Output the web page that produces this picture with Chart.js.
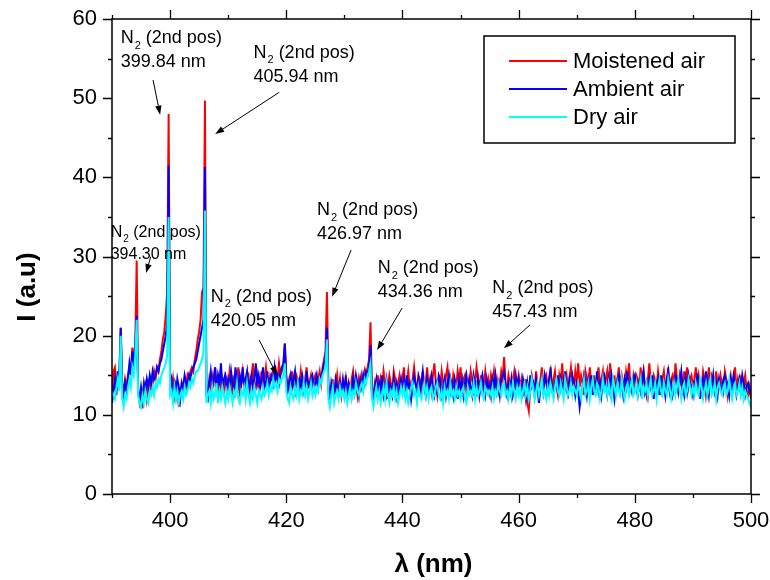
<!DOCTYPE html>
<html>
<head>
<meta charset="utf-8">
<title>N2 emission spectra</title>
<script src="https://cdn.jsdelivr.net/npm/chart.js@4.4.0/dist/chart.umd.min.js"></script>
<style>
  body { margin:0; background:#fff; }
  #wrap { width:770px; height:580px; }
</style>
</head>
<body>
<div id="wrap"><canvas id="spectrum" width="770" height="580"></canvas></div>
<script>
// wavelength grid: 390 nm .. 500 nm, one reading every 0.25 nm
var wlStart = 390, wlStep = 0.25;

// intensities (a.u.), 20 readings per row = 5 nm
var moist = [
  13.0, 15.5, 16.0, 13.5, 14.5, 15.0, 21.0, 14.0, 13.0, 14.5, 13.5, 15.0, 16.0, 15.5, 18.5, 17.0, 19.0, 29.5, 13.0, 11.5,
  12.5, 10.8, 13.5, 14.0, 12.0, 13.5, 14.5, 13.0, 14.0, 15.5, 14.5, 16.0, 15.5, 17.0, 18.0, 19.5, 20.5, 22.5, 25.5, 48.0,
  14.0, 13.0, 14.5, 12.5, 14.0, 13.5, 11.0, 12.5, 14.0, 13.0, 14.5, 13.5, 15.0, 14.5, 15.5, 16.0, 15.5, 17.0, 18.0, 19.5,
  20.5, 22.0, 25.5, 26.0, 49.7, 13.0, 12.5, 14.5, 13.5, 15.0, 14.0, 16.0, 13.5, 14.5, 12.5, 15.5, 14.0, 13.0, 15.0, 14.5,
  13.5, 15.5, 14.0, 12.5, 15.0, 13.5, 14.5, 16.0, 13.0, 14.0, 15.5, 13.5, 12.5, 14.5, 15.0, 13.0, 14.5, 16.5, 14.0, 13.5,
  15.0, 13.5, 14.0, 15.5, 13.0, 14.5, 16.0, 14.0, 13.5, 15.0, 14.5, 16.0, 13.5, 15.5, 14.5, 16.5, 15.0, 15.5, 16.0, 19.0,
  15.0, 13.5, 14.5, 13.0, 15.5, 14.0, 13.0, 15.0, 14.5, 13.5, 15.5, 14.0, 13.0, 14.5, 16.0, 13.5, 14.0, 15.0, 13.5, 14.5,
  15.0, 13.5, 14.5, 15.5, 14.0, 16.0, 17.0, 18.0, 25.5, 14.0, 12.5, 13.0, 14.5, 12.0, 13.5, 15.0, 13.0, 14.5, 12.5, 14.0,
  13.5, 15.0, 12.5, 14.0, 13.0, 14.5, 15.5, 13.5, 14.0, 12.5, 14.5, 13.5, 15.0, 14.0, 15.5, 14.5, 16.0, 17.0, 21.7, 13.0,
  12.5, 14.0, 13.0, 15.0, 12.5, 14.5, 13.5, 15.5, 14.0, 12.5, 13.5, 15.0, 14.0, 13.0, 15.5, 14.5, 12.5, 14.0, 15.0, 13.5,
  14.5, 16.0, 13.0, 14.0, 15.5, 13.5, 12.5, 14.5, 16.0, 14.0, 13.0, 15.0, 14.5, 12.5, 15.5, 13.5, 14.0, 16.0, 13.5, 14.5,
  13.0, 15.0, 16.5, 14.0, 12.5, 14.5, 13.5, 15.5, 14.0, 13.0, 15.0, 16.0, 13.5, 14.5, 12.5, 15.0, 14.0, 13.5, 15.5, 14.0,
  16.0, 13.5, 14.5, 15.0, 13.0, 14.0, 12.5, 15.5, 14.5, 13.0, 14.0, 16.0, 14.5, 13.5, 15.0, 12.5, 14.0, 15.5, 13.5, 14.5,
  13.0, 15.0, 14.0, 15.5, 13.5, 14.5, 13.0, 14.0, 15.5, 14.5, 17.3, 14.0, 13.0, 15.0, 14.0, 12.5, 14.5, 15.5, 13.5, 14.0,
  15.0, 13.5, 14.5, 12.5, 13.0, 14.5, 11.5, 10.5, 13.5, 15.0, 14.0, 13.0, 15.5, 14.0, 12.5, 14.5, 16.0, 13.5, 14.5, 15.0,
  13.5, 14.5, 16.0, 13.0, 14.5, 15.5, 13.5, 12.5, 15.0, 14.0, 16.5, 13.5, 14.0, 15.0, 13.0, 14.5, 16.0, 14.0, 13.5, 15.5,
  14.0, 16.5, 13.5, 15.0, 14.0, 12.5, 15.5, 14.5, 13.0, 16.0, 14.0, 13.5, 15.0, 12.5, 14.5, 16.0, 13.5, 14.5, 15.5, 13.0,
  14.5, 15.5, 13.0, 16.5, 14.0, 13.5, 15.0, 12.5, 14.5, 16.0, 13.5, 15.0, 14.0, 13.0, 15.5, 14.5, 16.5, 13.5, 14.0, 15.0,
  13.5, 15.0, 14.5, 13.0, 16.0, 14.0, 15.5, 13.5, 12.5, 14.5, 16.5, 14.0, 13.0, 15.0, 14.5, 13.5, 15.5, 14.0, 13.0, 14.5,
  15.5, 13.5, 14.0, 16.0, 13.0, 14.5, 15.0, 13.5, 16.5, 14.5, 13.0, 15.0, 14.0, 12.5, 15.5, 14.0, 16.0, 13.5, 14.5, 15.0,
  13.5, 14.5, 16.0, 13.0, 15.0, 14.0, 13.5, 15.5, 14.5, 12.5, 14.0, 16.0, 13.5, 15.0, 14.5, 13.0, 15.5, 14.0, 13.5, 15.0,
  14.0, 13.0, 15.5, 14.5, 12.5, 14.0, 15.0, 13.5, 14.5, 16.0, 13.0, 14.5, 13.5, 15.0, 12.5, 14.0, 15.0, 13.0, 12.5, 13.5,
  12.0
];
var ambient = [
  11.5, 13.0, 14.5, 12.5, 15.5, 14.0, 21.0, 13.5, 12.5, 14.0, 13.0, 14.5, 16.5, 15.0, 18.0, 16.5, 18.5, 22.5, 13.0, 12.0,
  13.5, 12.0, 14.0, 13.0, 14.5, 13.5, 15.0, 14.0, 15.5, 14.5, 15.0, 16.0, 15.5, 16.5, 17.0, 18.0, 19.0, 20.0, 21.5, 41.5,
  13.5, 14.5, 13.0, 14.0, 12.5, 14.5, 13.5, 12.0, 14.0, 13.5, 15.0, 14.0, 13.5, 15.0, 14.5, 15.5, 16.0, 16.5, 17.0, 18.0,
  19.0, 20.0, 21.0, 22.0, 41.3, 12.5, 12.0, 14.0, 15.5, 13.5, 14.5, 16.0, 13.0, 15.0, 14.0, 16.5, 13.5, 14.5, 15.0, 13.0,
  14.5, 13.5, 15.5, 14.0, 13.0, 16.0, 14.5, 13.5, 15.0, 14.0, 16.0, 13.5, 14.5, 15.5, 13.0, 14.0, 15.0, 13.5, 14.5, 16.5,
  14.0, 15.0, 13.5, 14.5, 16.0, 13.5, 14.0, 15.5, 13.0, 14.5, 15.0, 14.0, 16.0, 14.5, 15.0, 14.0, 15.5, 16.0, 16.5, 19.0,
  14.5, 13.0, 14.0, 15.0, 13.5, 14.5, 15.5, 13.0, 14.0, 14.5, 13.5, 15.0, 14.0, 13.0, 15.5, 14.0, 13.5, 14.5, 15.0, 13.5,
  14.0, 15.0, 13.5, 14.5, 15.0, 15.5, 16.5, 17.0, 21.0, 13.0, 12.0, 14.0, 13.0, 12.5, 14.5, 13.5, 12.5, 14.0, 13.0, 14.5,
  13.0, 14.5, 12.5, 14.0, 13.5, 12.5, 14.5, 13.0, 15.0, 14.0, 12.5, 14.5, 13.5, 15.0, 14.0, 15.5, 15.0, 16.0, 18.8, 12.5,
  12.0, 13.5, 14.5, 12.5, 14.0, 13.0, 15.0, 12.5, 13.5, 14.5, 12.0, 14.0, 13.5, 12.5, 14.5, 13.0, 14.0, 12.5, 13.5, 14.5,
  13.0, 14.5, 12.5, 15.0, 13.5, 14.0, 12.0, 13.5, 15.0, 14.0, 12.5, 14.5, 13.0, 14.0, 15.5, 13.5, 12.5, 14.5, 13.0, 14.0,
  15.0, 13.5, 12.5, 14.0, 13.0, 15.0, 14.5, 12.5, 13.5, 14.5, 12.5, 14.0, 15.0, 13.0, 14.0, 12.5, 14.5, 13.5, 12.0, 14.5,
  13.5, 14.5, 12.5, 14.0, 15.0, 13.0, 14.5, 13.5, 12.5, 15.0, 14.0, 13.0, 14.5, 12.5, 14.0, 15.0, 13.5, 12.5, 14.5, 13.5,
  14.0, 12.5, 14.5, 13.5, 15.0, 13.0, 14.0, 12.5, 14.5, 15.0, 15.5, 13.5, 12.5, 14.0, 13.0, 14.5, 12.5, 13.5, 15.0, 13.5,
  14.5, 13.0, 12.5, 14.5, 13.5, 12.0, 14.0, 12.5, 15.0, 13.5, 14.0, 12.5, 14.5, 13.5, 11.5, 13.5, 14.5, 13.0, 15.0, 14.0,
  13.0, 14.5, 15.5, 13.0, 12.5, 14.0, 13.5, 15.0, 12.5, 14.5, 13.5, 14.0, 15.5, 13.0, 12.5, 14.5, 13.5, 15.0, 14.0, 12.5,
  14.0, 13.0, 11.0, 12.5, 13.5, 15.0, 14.0, 12.5, 14.5, 13.5, 15.0, 12.5, 14.0, 13.5, 15.5, 13.0, 14.0, 12.5, 14.5, 15.0,
  13.5, 12.5, 14.5, 13.0, 15.0, 14.0, 12.0, 13.5, 14.5, 15.0, 13.0, 14.0, 12.5, 14.5, 13.5, 15.5, 12.5, 14.0, 13.0, 14.5,
  15.0, 13.5, 12.5, 14.0, 13.0, 14.5, 15.5, 13.0, 14.0, 12.5, 14.5, 13.5, 15.0, 12.0, 14.0, 13.5, 14.5, 12.5, 15.0, 13.5,
  14.0, 12.5, 14.5, 15.5, 13.0, 14.0, 12.5, 13.5, 15.0, 14.5, 13.0, 14.0, 15.5, 13.5, 12.5, 14.5, 13.0, 15.0, 14.0, 13.5,
  12.5, 14.0, 13.5, 15.0, 14.5, 12.0, 13.5, 14.5, 13.0, 15.5, 14.0, 12.5, 14.5, 13.5, 15.0, 13.0, 14.0, 12.5, 14.5, 13.5,
  13.0, 14.5, 15.0, 13.5, 14.0, 12.5, 14.5, 13.5, 15.0, 14.0, 12.5, 13.5, 14.5, 13.0, 15.0, 14.0, 12.5, 13.5, 14.0, 13.0,
  12.5
];
var dry = [
  13.0, 12.5, 12.0, 13.5, 14.5, 13.0, 20.0, 12.0, 11.0, 12.5, 12.0, 13.5, 14.5, 13.5, 16.0, 15.0, 17.5, 22.0, 12.5, 11.5,
  11.0, 12.5, 11.5, 13.0, 12.0, 11.5, 13.0, 12.5, 13.5, 12.5, 14.0, 13.5, 14.5, 14.0, 15.0, 15.5, 16.0, 16.5, 17.5, 35.0,
  12.5, 13.0, 11.5, 13.5, 12.0, 13.0, 11.5, 12.5, 13.0, 12.0, 13.5, 12.5, 13.0, 14.0, 13.5, 14.5, 14.0, 15.0, 15.5, 15.5,
  16.0, 16.5, 17.0, 18.0, 35.8, 11.5, 12.5, 13.0, 11.5, 13.5, 12.0, 12.5, 14.0, 11.5, 13.0, 12.0, 13.5, 12.5, 11.5, 13.0,
  12.0, 13.5, 12.5, 11.5, 13.0, 12.5, 14.0, 12.0, 11.5, 13.0, 12.5, 13.5, 12.0, 14.0, 12.5, 11.5, 13.0, 12.0, 13.5, 12.5,
  11.5, 13.0, 12.5, 12.0, 13.5, 12.5, 13.0, 14.0, 12.5, 13.5, 13.0, 14.5, 13.5, 14.0, 13.0, 14.5, 14.0, 14.5, 15.0, 16.5,
  13.0, 12.0, 11.5, 13.5, 12.5, 12.0, 13.5, 12.5, 14.0, 12.0, 13.0, 12.5, 14.0, 12.5, 13.5, 12.0, 13.0, 14.0, 12.5, 13.5,
  12.5, 13.5, 13.0, 14.5, 14.0, 15.0, 15.5, 16.0, 19.5, 12.0, 11.0, 12.5, 13.5, 11.5, 12.5, 13.0, 12.0, 13.5, 12.5, 13.0,
  12.0, 13.0, 11.5, 12.5, 13.5, 12.0, 13.0, 12.5, 14.0, 13.0, 12.5, 13.5, 14.0, 13.0, 14.5, 14.0, 15.0, 15.5, 16.5, 12.0,
  11.0, 12.5, 13.5, 12.0, 13.0, 11.5, 12.5, 13.5, 12.0, 14.0, 12.5, 11.5, 13.0, 12.5, 13.5, 12.0, 13.0, 11.5, 12.5, 13.5,
  12.5, 13.5, 12.0, 13.0, 11.5, 12.5, 13.5, 14.0, 12.5, 13.0, 11.5, 13.5, 12.5, 12.0, 13.0, 14.0, 12.5, 13.5, 12.0, 13.0,
  13.5, 12.0, 12.5, 13.5, 14.0, 12.5, 12.0, 13.0, 11.5, 13.5, 12.5, 13.0, 12.0, 14.0, 12.5, 13.0, 12.0, 13.5, 12.5, 13.0,
  12.0, 13.0, 13.5, 12.0, 11.5, 13.5, 12.5, 13.0, 12.5, 14.0, 12.0, 13.5, 12.5, 13.0, 14.0, 12.5, 12.0, 13.5, 13.0, 12.5,
  13.0, 12.5, 13.5, 12.0, 13.0, 12.5, 14.0, 13.0, 12.5, 13.5, 14.0, 12.5, 13.0, 12.0, 13.5, 12.5, 14.0, 13.0, 12.0, 13.5,
  12.5, 13.5, 12.0, 13.0, 14.0, 12.5, 13.5, 12.0, 13.0, 14.5, 13.5, 12.0, 13.0, 14.0, 12.5, 13.5, 14.5, 12.5, 13.0, 12.0,
  13.5, 12.5, 14.0, 13.0, 12.0, 13.5, 14.5, 13.0, 12.5, 14.0, 13.0, 12.0, 14.5, 13.5, 12.5, 13.0, 14.0, 12.5, 13.5, 13.0,
  12.5, 14.0, 13.0, 12.0, 13.5, 14.5, 12.5, 13.0, 14.0, 12.0, 13.5, 14.5, 13.0, 12.5, 14.0, 13.5, 12.0, 13.0, 14.5, 13.0,
  13.5, 12.5, 14.0, 13.0, 12.0, 14.5, 13.5, 12.5, 14.0, 13.0, 12.5, 14.5, 13.0, 12.0, 13.5, 14.0, 12.5, 13.5, 14.5, 12.5,
  13.0, 14.0, 12.5, 13.5, 14.5, 12.0, 13.5, 13.0, 14.0, 12.5, 13.5, 14.5, 12.5, 13.0, 14.0, 12.0, 13.5, 14.5, 13.0, 12.5,
  14.0, 13.0, 12.5, 14.5, 13.5, 12.0, 13.0, 14.0, 12.5, 13.5, 14.5, 13.0, 12.0, 13.5, 14.0, 12.5, 13.0, 14.5, 13.5, 12.5,
  13.5, 12.5, 14.0, 13.0, 12.5, 14.5, 13.5, 12.0, 13.0, 14.0, 12.5, 13.5, 14.5, 12.5, 13.0, 14.0, 12.0, 13.5, 14.0, 13.0,
  12.5, 13.5, 14.0, 12.5, 13.0, 14.5, 13.0, 12.0, 13.5, 14.0, 12.5, 13.0, 14.0, 12.5, 13.5, 12.0, 13.0, 12.5, 12.0, 11.5,
  11.0
];

var seriesNames  = ['Moistened air', 'Ambient air', 'Dry air'];
var seriesColors = ['#ff0000', '#0000ff', '#00ffff'];
var xTickLabels = [400, 420, 440, 460, 480, 500];
var yTickLabels = [0, 10, 20, 30, 40, 50, 60];

// peak labels: line 2 text, text anchor (nm, a.u.), arrow from/to (nm, a.u.)
var peakNotes = [
  { txt:'399.84 nm', at:[391.5, 57.6],  size:18, from:[397.07, 52.3],  to:[398.28, 47.9] },
  { txt:'405.94 nm', at:[414.36, 55.74], size:18, from:[418.79, 50.74], to:[407.76, 45.47] },
  { txt:'394.30 nm', at:[389.78, 32.97], size:16, from:[396.67, 29.97], to:[395.86, 27.91] },
  { txt:'420.05 nm', at:[407.02, 24.92], size:18, from:[415.34, 19.45], to:[418.40, 15.03] },
  { txt:'426.97 nm', at:[425.29, 35.87], size:18, from:[431.16, 30.82], to:[427.88, 24.92] },
  { txt:'434.36 nm', at:[435.74, 28.55], size:18, from:[439.95, 23.49], to:[435.64, 18.19] },
  { txt:'457.43 nm', at:[455.47, 25.98], size:18, from:[461.95, 21.35], to:[457.47, 18.40] }
];

var FONT = '"Liberation Sans", Arial, sans-serif';

function toPoints(vals) {
  return vals.map(function(v, i){ return { x: wlStart + i * wlStep, y: v }; });
}

function arrow(ctx, x1, y1, x2, y2) {
  var ang = Math.atan2(y2 - y1, x2 - x1), hl = 9, hw = 3.2;
  ctx.beginPath();
  ctx.moveTo(x1, y1);
  ctx.lineTo(x2 - Math.cos(ang) * hl * 0.8, y2 - Math.sin(ang) * hl * 0.8);
  ctx.stroke();
  ctx.beginPath();
  ctx.moveTo(x2, y2);
  ctx.lineTo(x2 - Math.cos(ang) * hl - Math.sin(ang) * hw, y2 - Math.sin(ang) * hl + Math.cos(ang) * hw);
  ctx.lineTo(x2 - Math.cos(ang) * hl + Math.sin(ang) * hw, y2 - Math.sin(ang) * hl - Math.cos(ang) * hw);
  ctx.closePath();
  ctx.fill();
}

var decor = {
  id: 'decor',
  afterDraw: function(chart) {
    var ctx = chart.ctx, a = chart.chartArea;
    var xs = chart.scales.x, ys = chart.scales.y;
    ctx.save();

    // frame + ticks on all four sides (outward)
    ctx.strokeStyle = '#000';
    ctx.lineWidth = 1.5;
    ctx.strokeRect(a.left, a.top, a.right - a.left, a.bottom - a.top);
    ctx.lineWidth = 1.3;
    ctx.beginPath();
    for (var v = xs.min; v <= xs.max; v += 10) {
      var px = Math.round(xs.getPixelForValue(v)) + 0.5;
      var len = xTickLabels.indexOf(v) >= 0 ? 9 : 4;
      ctx.moveTo(px, a.bottom); ctx.lineTo(px, a.bottom + len);
      ctx.moveTo(px, a.top);    ctx.lineTo(px, a.top - len);
    }
    for (var u = ys.min; u <= ys.max; u += 5) {
      var py = Math.round(ys.getPixelForValue(u)) + 0.5;
      var l2 = yTickLabels.indexOf(u) >= 0 ? 9 : 4;
      ctx.moveTo(a.left, py);  ctx.lineTo(a.left - l2, py);
      ctx.moveTo(a.right, py); ctx.lineTo(a.right + l2, py);
    }
    ctx.stroke();

    // axis titles
    ctx.fillStyle = '#000';
    ctx.font = 'bold 26px ' + FONT;
    ctx.textAlign = 'center';
    ctx.textBaseline = 'middle';
    ctx.fillText('\u03bb (nm)', (a.left + a.right) / 2 + 2, a.bottom + 71);
    ctx.save();
    ctx.translate(a.left - 84, a.bottom - 207);
    ctx.rotate(-Math.PI / 2);
    ctx.fillText('I (a.u)', 0, 0);
    ctx.restore();

    // peak labels with arrows
    ctx.textAlign = 'left';
    ctx.lineWidth = 1;
    peakNotes.forEach(function(n) {
      var x = xs.getPixelForValue(n.at[0]);
      var y = ys.getPixelForValue(n.at[1]);
      ctx.font = n.size + 'px ' + FONT;
      ctx.fillText('N', x, y);
      var w = ctx.measureText('N').width + 1;
      var sub = Math.round(n.size * 0.62);
      ctx.font = sub + 'px ' + FONT;
      ctx.fillText('2', x + w, y + n.size * 0.42);
      w += ctx.measureText('2').width;
      ctx.font = n.size + 'px ' + FONT;
      ctx.fillText(' (2nd pos)', x + w, y);
      ctx.fillText(n.txt, x, y + n.size * 1.33);
      arrow(ctx, xs.getPixelForValue(n.from[0]), ys.getPixelForValue(n.from[1]),
                 xs.getPixelForValue(n.to[0]), ys.getPixelForValue(n.to[1]));
    });

    // legend box in the upper right corner
    var bx = a.right - 267, by = a.top + 17, bw = 251, bh = 107;
    ctx.fillStyle = '#fff';
    ctx.fillRect(bx, by, bw, bh);
    ctx.lineWidth = 1.5;
    ctx.strokeRect(bx, by, bw, bh);
    ctx.font = '22px ' + FONT;
    ctx.textBaseline = 'middle';
    chart.data.datasets.forEach(function(ds, i) {
      var ry = by + 25 + i * 28;
      ctx.strokeStyle = ds.borderColor;
      ctx.lineWidth = 2;
      ctx.beginPath();
      ctx.moveTo(bx + 25, ry); ctx.lineTo(bx + 83, ry);
      ctx.stroke();
      ctx.fillStyle = '#000';
      ctx.fillText(ds.label, bx + 89, ry + 1);
    });
    ctx.restore();
  }
};

Chart.defaults.color = '#000';
Chart.defaults.font.family = FONT;

new Chart(document.getElementById('spectrum'), {
  type: 'line',
  data: {
    datasets: [
      { label: seriesNames[0], data: toPoints(moist),   borderColor: seriesColors[0], order: 3 },
      { label: seriesNames[1], data: toPoints(ambient), borderColor: seriesColors[1], order: 2 },
      { label: seriesNames[2], data: toPoints(dry),     borderColor: seriesColors[2], order: 1 }
    ]
  },
  options: {
    responsive: false,
    animation: false,
    layout: { padding: { top: 19, right: 19, left: 0, bottom: 0 } },
    elements: {
      line: { borderWidth: 2, tension: 0 },
      point: { radius: 0, hoverRadius: 0 }
    },
    plugins: { legend: { display: false }, tooltip: { enabled: false } },
    scales: {
      x: {
        type: 'linear', min: 390, max: 500,
        grid: { display: false, drawTicks: false },
        border: { display: false },
        ticks: {
          stepSize: 10, autoSkip: false, maxRotation: 0, padding: 14,
          font: { size: 22 },
          callback: function(v) { return xTickLabels.indexOf(v) >= 0 ? v : ''; }
        },
        afterFit: function(s) { s.height = 86; s.paddingLeft = 0; s.paddingRight = 0; }
      },
      y: {
        min: 0, max: 60,
        grid: { display: false, drawTicks: false },
        border: { display: false },
        ticks: {
          stepSize: 10, padding: 15,
          font: { size: 22 },
          callback: function(v) { return yTickLabels.indexOf(v) >= 0 ? v : ''; }
        },
        afterFit: function(s) { s.width = 112; s.paddingTop = 0; s.paddingBottom = 0; }
      }
    }
  },
  plugins: [decor]
});
</script>
</body>
</html>
